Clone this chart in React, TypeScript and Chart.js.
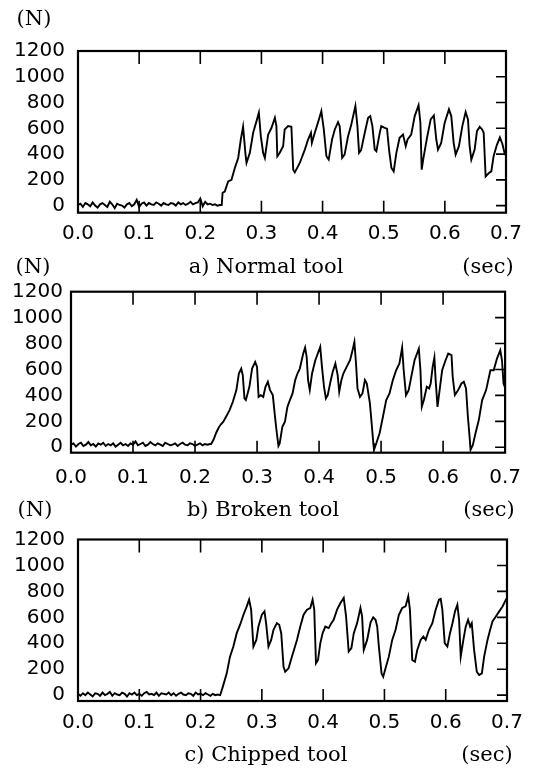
import React, { useEffect, useRef } from "react";
import { Chart, registerables } from "chart.js";

Chart.register(...registerables);

// ---------- shared axis values ----------
const xTickValues = [0, 0.1, 0.2, 0.3, 0.4, 0.5, 0.6, 0.7];
const yTickValues = [0, 200, 400, 600, 800, 1000, 1200];
const innerXTicks = [0.1, 0.2, 0.3, 0.4, 0.5, 0.6];
const rightYTicks = [0, 200, 400, 600, 800, 1000];
const baselineStep = 0.004; // sample interval of the idle (pre-cut) signal, s

// ---------- a) Normal tool ----------
const baselineA = [
  5, 15, -10, 20, 10, -5, 25, 0, -15, 10, 20, 5, -10, 30, 10, -20, 15, 5, 0, -15,
  10, 20, -5, 10, 45, -10, 15, 25, 0, 20, 10, 5, 25, 15, 0, 20, 10, 5, 20, 15,
  0, 25, 10, 20, 5, 15, 30, 10, 20, 25, 55, -5, 30, 10, 15, 5, 10, 0, 5,
];
const timesA = [
  0.235, 0.2365, 0.24, 0.2456, 0.251, 0.2565, 0.262, 0.2663, 0.27, 0.274,
  0.2756, 0.281, 0.2865, 0.292, 0.2958, 0.299, 0.3028, 0.3056, 0.311, 0.3165,
  0.322, 0.3245, 0.326, 0.33, 0.3355, 0.338, 0.3436, 0.349, 0.352, 0.3546,
  0.3627, 0.371, 0.3763, 0.381, 0.3825, 0.3873, 0.394, 0.398, 0.402, 0.4063,
  0.41, 0.4155, 0.42, 0.4253, 0.428, 0.432, 0.436, 0.4417, 0.447, 0.4537,
  0.457, 0.4597, 0.463, 0.469, 0.4745, 0.478, 0.4815, 0.4853, 0.488, 0.4935,
  0.496, 0.5016, 0.5054, 0.5087, 0.5126, 0.5163, 0.5207, 0.526, 0.5316, 0.536,
  0.539, 0.545, 0.5507, 0.557, 0.56, 0.5621, 0.565, 0.5708, 0.5768, 0.582,
  0.586, 0.5888, 0.594, 0.5997, 0.6067, 0.6105, 0.6144, 0.6176, 0.623, 0.6286,
  0.634, 0.6378, 0.6405, 0.6433, 0.6487, 0.6525, 0.657, 0.661, 0.6635, 0.6667,
  0.672, 0.676, 0.6797, 0.685, 0.69, 0.694, 0.698, 0.7,
];
const forceA = [
  5, 100, 109, 187, 200, 292, 370, 513, 612, 396,
  331, 409, 565, 656, 721, 539, 409, 370, 552, 604,
  682, 617, 383, 410, 461, 591, 617, 612, 279, 258,
  331, 435, 513, 565, 487, 565, 669, 734, 591, 383,
  357, 513, 591, 648, 617, 370, 396, 539, 630, 773,
  617, 409, 430, 565, 682, 695, 617, 435, 422, 565,
  617, 604, 597, 435, 292, 266, 409, 526, 552, 461,
  513, 552, 695, 779, 643, 279, 370, 526, 669, 700,
  513, 435, 487, 643, 747, 695, 487, 396, 461, 617,
  726, 669, 461, 357, 435, 578, 612, 591, 565, 226,
  253, 266, 383, 470, 530, 480, 400, 390,
];

// ---------- b) Broken tool ----------
const baselineB = [
  20, 30, 5, 25, 35, 10, 20, 40, 15, 25, 5, 30, 20, 35, 10, 25, 15, 30, 5, 20,
  35, 15, 25, 10, 30, 20, 45, 15, 25, 35, 10, 20, 40, 25, 15, 30, 20, 10, 35, 25,
  15, 20, 30, 10, 25, 35, 20, 15, 30, 25, 10, 20, 30, 15, 25, 20, 25,
];
const timesB = [
  0.226, 0.23, 0.234, 0.238, 0.2415, 0.2456, 0.25, 0.253, 0.2557, 0.261,
  0.2667, 0.2707, 0.2745, 0.277, 0.2797, 0.282, 0.2877, 0.292, 0.297, 0.3,
  0.3025, 0.306, 0.31, 0.3136, 0.3174, 0.321, 0.3254, 0.329, 0.3313, 0.3345,
  0.3365, 0.3408, 0.345, 0.349, 0.353, 0.3573, 0.3615, 0.3652, 0.369, 0.372,
  0.3745, 0.3775, 0.38, 0.3823, 0.385, 0.3887, 0.394, 0.398, 0.4019, 0.4047,
  0.408, 0.411, 0.414, 0.4184, 0.422, 0.4263, 0.43, 0.4325, 0.436, 0.4392,
  0.4445, 0.45, 0.454, 0.457, 0.4596, 0.462, 0.466, 0.47, 0.474, 0.477,
  0.482, 0.4848, 0.4875, 0.4886, 0.4923, 0.4976, 0.503, 0.5083, 0.5136, 0.519,
  0.5243, 0.5296, 0.534, 0.5365, 0.5402, 0.5445, 0.5487, 0.554, 0.5609, 0.5635,
  0.5657, 0.569, 0.5737, 0.5775, 0.58, 0.5832, 0.586, 0.588, 0.591, 0.5944,
  0.5985, 0.604, 0.6083, 0.6136, 0.6155, 0.619, 0.6243, 0.6296, 0.6334, 0.637,
  0.64, 0.6427, 0.6443, 0.648, 0.6523, 0.6576, 0.663, 0.6694, 0.6763, 0.6816,
  0.6869, 0.6922, 0.695, 0.6975, 0.7,
];
const forceB = [
  25, 60, 110, 150, 175, 197, 235, 261, 287, 351,
  441, 569, 607, 556, 377, 364, 466, 607, 658, 620,
  389, 402, 389, 466, 505, 441, 402, 235, 133, 10,
  30, 158, 197, 312, 364, 415, 518, 569, 607, 671,
  723, 769, 697, 518, 441, 569, 671, 723, 774, 620,
  466, 377, 402, 505, 581, 646, 556, 428, 518, 569,
  620, 671, 748, 812, 646, 454, 389, 415, 518, 492,
  338, 185, 31, -20, 31, 108, 235, 364, 415, 518,
  594, 646, 769, 594, 402, 441, 543, 671, 761, 594,
  312, 364, 466, 454, 492, 620, 692, 518, 312, 441,
  594, 671, 723, 710, 543, 402, 441, 492, 505, 454,
  235, 82, -20, 18, 108, 210, 364, 441, 594, 594,
  684, 748, 671, 492, 460,
];

// ---------- c) Chipped tool ----------
const baselineC = [
  10, -5, 15, 0, 20, 5, -10, 15, 10, -5, 20, 0, 10, 25, -5, 15, 5, 0, 20, 10,
  -10, 15, 5, 20, 0, 10, -5, 15, 25, 5, 10, 0, 20, -5, 15, 10, 5, 20, 0, 15,
  -5, 10, 20, 5, 0, 15, 10, -5, 20, 5, 10, 0, 15, 5, -5, 10, 0, 5,
];
const timesC = [
  0.232, 0.236, 0.2427, 0.248, 0.2535, 0.259, 0.2645, 0.27, 0.2754, 0.2792,
  0.2825, 0.2862, 0.291, 0.2944, 0.3, 0.3043, 0.3069, 0.3108, 0.3152, 0.319,
  0.3245, 0.3283, 0.3316, 0.3354, 0.3381, 0.3436, 0.349, 0.3573, 0.3627, 0.3681,
  0.3736, 0.379, 0.3828, 0.3855, 0.3883, 0.3916, 0.3954, 0.3992, 0.4036, 0.409,
  0.4134, 0.4172, 0.4227, 0.4282, 0.4336, 0.4374, 0.4417, 0.4461, 0.45, 0.4554,
  0.4609, 0.4636, 0.4663, 0.4718, 0.4773, 0.4816, 0.4855, 0.4882, 0.4909, 0.4953,
  0.498, 0.5018, 0.5072, 0.5127, 0.5182, 0.5236, 0.529, 0.5345, 0.5389, 0.5416,
  0.5454, 0.5498, 0.5536, 0.5591, 0.5635, 0.5673, 0.5727, 0.5782, 0.5836, 0.589,
  0.5918, 0.5945, 0.5984, 0.6027, 0.607, 0.611, 0.6152, 0.619, 0.6218, 0.6245,
  0.6288, 0.6327, 0.6365, 0.6398, 0.6425, 0.6463, 0.6507, 0.6545, 0.659, 0.6627,
  0.6682, 0.6725, 0.6763, 0.6818, 0.6873, 0.6927, 0.6982, 0.7,
];
const forceC = [
  0, 60, 168, 297, 375, 478, 543, 620, 684, 736,
  659, 375, 426, 529, 620, 646, 555, 375, 426, 504,
  555, 543, 478, 219, 181, 207, 297, 426, 529, 620,
  659, 672, 736, 659, 246, 271, 401, 478, 529, 517,
  555, 581, 659, 710, 749, 607, 336, 362, 478, 555,
  672, 607, 349, 426, 560, 600, 581, 529, 375, 168,
  142, 207, 297, 426, 504, 620, 672, 684, 762, 659,
  271, 258, 349, 426, 452, 426, 504, 555, 659, 736,
  742, 659, 401, 375, 478, 555, 646, 697, 581, 297,
  426, 529, 581, 529, 555, 349, 181, 155, 168, 297,
  426, 504, 568, 607, 646, 684, 736, 750,
];

// ---------- layout ----------
const PAGE_W = 534;
const CANVAS_H = 270;
const X_AXIS_H = 44;
const tickFont = { family: "'DejaVu Sans', sans-serif", size: 20 };
const captionFont = "'DejaVu Serif', serif";

type Panel = {
  canvasTop: number;
  area: { left: number; right: number; top: number; bottom: number };
  yMin: number;
  yGap: number;
  xGap: number;
  baseline: number[];
  times: number[];
  force: number[];
};

const panels: Panel[] = [
  { canvasTop: 0, area: { left: 78, right: 506, top: 51, bottom: 212.7 }, yMin: -55, yGap: 13, xGap: 9, baseline: baselineA, times: timesA, force: forceA },
  { canvasTop: 240, area: { left: 71, right: 510, top: 291.7, bottom: 452.7 }, yMin: -42, yGap: 8, xGap: 13, baseline: baselineB, times: timesB, force: forceB },
  { canvasTop: 488, area: { left: 78, right: 507, top: 539.5, bottom: 701 }, yMin: -45, yGap: 13, xGap: 10, baseline: baselineC, times: timesC, force: forceC },
];

const captions = [
  { text: "(N)", x: 34, y: 18 },
  { text: "a) Normal tool", x: 266, y: 266 },
  { text: "(sec)", x: 488, y: 266 },
  { text: "(N)", x: 33, y: 266 },
  { text: "b) Broken tool", x: 263, y: 509 },
  { text: "(sec)", x: 489, y: 509 },
  { text: "(N)", x: 35, y: 509 },
  { text: "c) Chipped tool", x: 266, y: 754 },
  { text: "(sec)", x: 487, y: 754 },
];

const framePlugin = {
  id: "frame",
  afterDatasetsDraw(chart: any) {
    const { ctx, chartArea: a, scales } = chart;
    ctx.save();
    ctx.strokeStyle = "#000";
    ctx.lineWidth = 2.2;
    ctx.strokeRect(a.left, a.top, a.right - a.left, a.bottom - a.top);
    ctx.lineWidth = 1.6;
    ctx.beginPath();
    innerXTicks.forEach((v) => {
      const px = scales.x.getPixelForValue(v);
      ctx.moveTo(px, a.top);
      ctx.lineTo(px, a.top + 13);
      ctx.moveTo(px, a.bottom);
      ctx.lineTo(px, a.bottom - 12);
    });
    rightYTicks.forEach((v) => {
      const py = scales.y.getPixelForValue(v);
      ctx.moveTo(a.right, py);
      ctx.lineTo(a.right - 10, py);
    });
    ctx.stroke();
    ctx.restore();
  },
};

function ForcePanel({ panel }: { panel: Panel }) {
  const ref = useRef<HTMLCanvasElement | null>(null);
  useEffect(() => {
    if (!ref.current) return;
    const p = panel;
    const points = [
      ...p.baseline.map((v, i) => ({ x: i * baselineStep, y: v })),
      ...p.times.map((t, i) => ({ x: t, y: p.force[i] })),
    ];
    const chart = new Chart(ref.current, {
      type: "line",
      data: {
        datasets: [
          {
            data: points,
            borderColor: "#000",
            borderWidth: 1.9,
            pointRadius: 0,
            tension: 0,
            fill: false,
          },
        ],
      },
      options: {
        animation: false,
        responsive: false,
        maintainAspectRatio: false,
        parsing: false,
        layout: {
          padding: {
            top: p.area.top - p.canvasTop,
            bottom: CANVAS_H - (p.area.bottom - p.canvasTop) - X_AXIS_H,
            left: 0,
            right: PAGE_W - p.area.right,
          },
        },
        plugins: { legend: { display: false }, tooltip: { enabled: false } },
        scales: {
          x: {
            type: "linear",
            min: 0,
            max: 0.7,
            afterBuildTicks: (s: any) => {
              s.ticks = xTickValues.map((v) => ({ value: v }));
            },
            afterFit: (s: any) => {
              s.height = X_AXIS_H;
            },
            ticks: {
              callback: (v: any) => Number(v).toFixed(1),
              font: tickFont,
              color: "#000",
              padding: p.xGap,
              maxRotation: 0,
              autoSkip: false,
            },
            grid: { display: false, drawTicks: false },
            border: { display: false },
          },
          y: {
            type: "linear",
            min: p.yMin,
            max: 1200,
            afterBuildTicks: (s: any) => {
              s.ticks = yTickValues.map((v) => ({ value: v }));
            },
            afterFit: (s: any) => {
              s.width = p.area.left;
            },
            ticks: {
              callback: (v: any) => String(v),
              font: tickFont,
              color: "#000",
              padding: p.yGap,
              autoSkip: false,
            },
            grid: { display: false, drawTicks: false },
            border: { display: false },
          },
        },
      },
      plugins: [framePlugin],
    } as any);
    return () => chart.destroy();
  }, [panel]);
  return (
    <canvas
      ref={ref}
      width={PAGE_W}
      height={CANVAS_H}
      style={{ position: "absolute", left: 0, top: panel.canvasTop, width: PAGE_W, height: CANVAS_H }}
    />
  );
}

export default function App() {
  return (
    <div style={{ position: "absolute", left: 0, top: 0, width: PAGE_W, height: 769, background: "#fff", overflow: "hidden" }}>
      {panels.map((p, i) => (
        <ForcePanel key={i} panel={p} />
      ))}
      {captions.map((c, i) => (
        <div
          key={"c" + i}
          style={{
            position: "absolute",
            left: c.x,
            top: c.y,
            transform: "translate(-50%, -50%)",
            fontFamily: captionFont,
            fontSize: 21,
            lineHeight: 1,
            whiteSpace: "nowrap",
            color: "#000",
          }}
        >
          {c.text}
        </div>
      ))}
    </div>
  );
}
